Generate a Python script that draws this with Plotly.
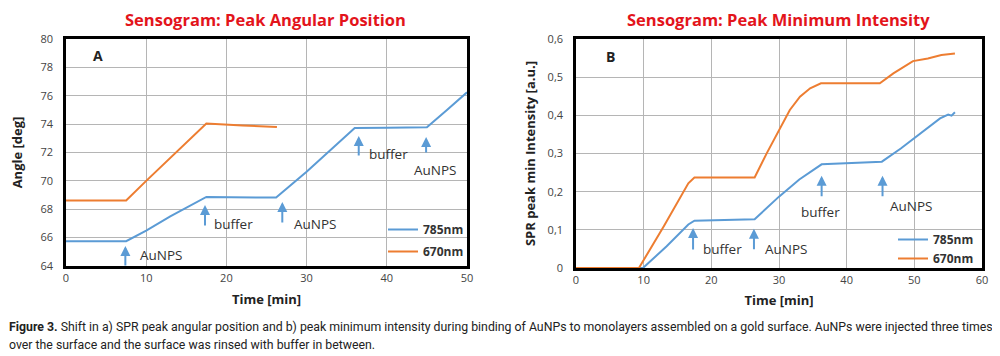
import plotly.graph_objects as go

# ---------------- data ----------------
# Panel A: Peak angular position [deg] vs time [min]
t_a_785 = [0, 7.5, 10, 13, 17.5, 22, 26.2, 30, 33, 36, 40, 45, 47.5, 50]
ang_785 = [65.75, 65.75, 66.5, 67.5, 68.87, 68.85, 68.82, 70.65, 72.2, 73.72, 73.74, 73.78, 75.0, 76.24]
t_a_670 = [0, 7.5, 10, 17.5, 22, 26.3]
ang_670 = [68.62, 68.62, 70.0, 74.05, 73.9, 73.8]

# Panel B: SPR peak min intensity [a.u.] vs time [min]
t_b_785 = [0, 9.9, 13.4, 16.6, 17.5, 22, 26.4, 30, 33, 36.3, 40, 45.2, 48, 51.6, 53.8, 55, 55.5, 56]
int_785 = [0, 0, 0.057, 0.114, 0.124, 0.126, 0.1275, 0.187, 0.232, 0.2716, 0.275, 0.2786, 0.313, 0.3615, 0.392, 0.402, 0.399, 0.408]
t_b_670 = [0, 9.3, 13, 16.6, 17.5, 22, 26.4, 28.2, 30, 31.6, 33.1, 34.6, 36.2, 40, 44.9, 46.9, 49.8, 52, 54, 56]
int_670 = [0, 0, 0.11, 0.222, 0.237, 0.237, 0.237, 0.301, 0.3615, 0.414, 0.449, 0.471, 0.484, 0.484, 0.484, 0.51, 0.542, 0.549, 0.558, 0.562]

series_names = ["785nm", "670nm"]
series_colors = ["#5b9bd5", "#ed7d31"]

a_ticks_x = [0, 10, 20, 30, 40, 50]
a_ticks_y = [64, 66, 68, 70, 72, 74, 76, 78, 80]
b_ticks_x = [0, 10, 20, 30, 40, 50, 60]
b_ticks_y = [0, 0.1, 0.2, 0.3, 0.4, 0.5, 0.6]
b_ticktext_y = ["0", "0,1", "0,2", "0,3", "0,4", "0,5", "0,6"]

# event markers: (x of arrow, y of arrow tip, label, label x, label y)
events_a = [
    (7.4, 65.41, "AuNPS", 11.9, 64.78),
    (17.33, 68.30, "buffer", 20.9, 66.96),
    (26.97, 68.51, "AuNPS", 31.05, 66.96),
    (36.5, 73.16, "buffer", 40.15, 71.9),
    (44.9, 73.09, "AuNPS", 46.07, 70.77),
]
events_b = [
    (8.4, -0.013, "AuNPS", 12.93, -0.089),
    (17.3, 0.1048, "buffer", 21.72, 0.0498),
    (26.3, 0.103, "AuNPS", 31.1, 0.0498),
    (36.3, 0.2418, "buffer", 36.13, 0.1475),
    (45.3, 0.2418, "AuNPS", 49.58, 0.1624),
]

FONT = "Open Sans, Noto Sans, sans-serif"
OFF = 8                      # page body margin of the html page
W, H = 1000 - OFF, 356 - OFF  # figure size so that it fills the window

def px(x):
    """page pixel x -> paper coordinate"""
    return (x - OFF) / W

def py(y):
    """page pixel y -> paper coordinate"""
    return 1 - (y - OFF) / H

fig = go.Figure()

fig.add_trace(go.Scatter(x=t_a_785, y=ang_785, mode="lines", name=series_names[0],
                         line=dict(color=series_colors[0], width=2),
                         xaxis="x", yaxis="y", legend="legend", legendgroup="a1"))
fig.add_trace(go.Scatter(x=t_a_670, y=ang_670, mode="lines", name=series_names[1],
                         line=dict(color=series_colors[1], width=2),
                         xaxis="x", yaxis="y", legend="legend", legendgroup="a2"))
fig.add_trace(go.Scatter(x=t_b_785, y=int_785, mode="lines", name=series_names[0],
                         line=dict(color=series_colors[0], width=2),
                         xaxis="x2", yaxis="y2", legend="legend2", legendgroup="b1"))
fig.add_trace(go.Scatter(x=t_b_670, y=int_670, mode="lines", name=series_names[1],
                         line=dict(color=series_colors[1], width=2),
                         xaxis="x2", yaxis="y2", legend="legend2", legendgroup="b2"))

axis_common = dict(
    showline=True, mirror=True, linecolor="black", linewidth=2.5,
    showgrid=True, gridcolor="#b5b5b5", gridwidth=1.3, zeroline=False,
    ticks="", tickfont=dict(family=FONT, size=11, color="#444"),
    title_font=dict(family=FONT, size=13, color="#222", weight="bold"),
    automargin=False,
)

fig.update_layout(
    width=W, height=H, autosize=False,
    margin=dict(l=0, r=0, t=0, b=0, autoexpand=False),
    paper_bgcolor="white", plot_bgcolor="white",
    font=dict(family=FONT, color="#333"),
    xaxis=dict(domain=[px(66), px(467)], range=[0, 50], tickvals=a_ticks_x,
               title=dict(text="Time [min]", standoff=11), anchor="y", **axis_common),
    yaxis=dict(domain=[py(266), py(39)], range=[64, 80], tickvals=a_ticks_y,
               title=dict(text="Angle [deg]", standoff=16), anchor="x",
               ticklabelstandoff=8, **axis_common),
    xaxis2=dict(domain=[px(576), px(982)], range=[0, 60], tickvals=b_ticks_x,
                title=dict(text="Time [min]", standoff=10), anchor="y2", **axis_common),
    yaxis2=dict(domain=[py(268), py(39)], range=[0, 0.6], tickvals=b_ticks_y,
                ticktext=b_ticktext_y,
                title=dict(text="SPR peak min Intensity [a.u.]", standoff=10), anchor="x2",
                ticklabelstandoff=8, **axis_common),
    legend=dict(x=px(383), y=py(215), xanchor="left", yanchor="top",
                bgcolor="rgba(0,0,0,0)", traceorder="grouped", tracegroupgap=3,
                font=dict(family=FONT, size=12, color="#333", weight="bold")),
    legend2=dict(x=px(893), y=py(225), xanchor="left", yanchor="top",
                 bgcolor="rgba(0,0,0,0)", traceorder="grouped", tracegroupgap=0,
                 font=dict(family=FONT, size=12, color="#333", weight="bold")),
    showlegend=True,
)

annotations = []

def paper_text(text, x, y, size, color, xanchor="center", family=FONT):
    return dict(text=text, x=px(x), y=py(y), xref="paper", yref="paper",
                xanchor=xanchor, yanchor="middle", showarrow=False,
                font=dict(family=family, size=size, color=color))

# titles
annotations.append(paper_text("<b>Sensogram: Peak Angular Position</b>", 265, 20, 16.5, "#e3141b"))
annotations.append(paper_text("<b>Sensogram: Peak Minimum Intensity</b>", 778, 20, 16.5, "#e3141b"))
# panel letters
annotations.append(paper_text("<b>A</b>", 98, 55, 14, "#222"))
annotations.append(paper_text("<b>B</b>", 610, 57, 14, "#222"))

for (xr, yr, evs, tails) in [("x", "y", events_a, [21, 22, 22, 21, 17]),
                             ("x2", "y2", events_b, [23, 23, 22, 22, 22])]:
    for (ex, ey, label, lx, ly), tail in zip(evs, tails):
        annotations.append(dict(x=ex, y=ey, xref=xr, yref=yr, text="", showarrow=True,
                                ax=0, ay=tail, arrowhead=2, arrowsize=1, arrowwidth=2,
                                arrowcolor=series_colors[0]))
        annotations.append(dict(x=lx, y=ly, xref=xr, yref=yr, text=label, showarrow=False,
                                xanchor="center", yanchor="middle",
                                font=dict(family=FONT, size=13.5, color="#333")))

# caption
CAP_FONT = "Roboto, sans-serif"
annotations.append(paper_text(
    "<b>Figure 3.</b> Shift in a) SPR peak angular position and b) peak minimum intensity during binding of AuNPs to monolayers assembled on a gold surface. AuNPs were injected three times",
    7, 327, 12.3, "#222", xanchor="left", family=CAP_FONT))
annotations.append(paper_text(
    "over the surface and the surface was rinsed with buffer in between.",
    7, 345, 12.3, "#222", xanchor="left", family=CAP_FONT))

fig.update_layout(annotations=annotations)

# light grey strip at the right edge of the page
fig.add_shape(type="rect", xref="paper", yref="paper", x0=px(995), x1=1, y0=0, y1=1,
              fillcolor="#f2f2f2", line=dict(width=0), layer="below")

fig.write_html("out.html")
